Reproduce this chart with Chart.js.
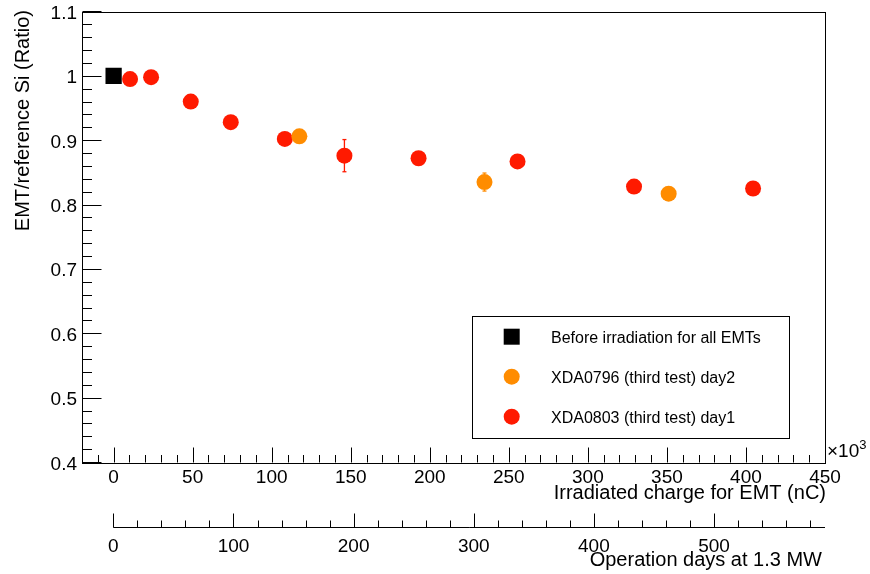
<!DOCTYPE html>
<html>
<head>
<meta charset="utf-8">
<script src="https://cdn.jsdelivr.net/npm/chart.js@4.4.1/dist/chart.umd.min.js"></script>
<style>
  html, body { margin: 0; padding: 0; background: #fff; }
  #wrap { width: 870px; height: 574px; }
</style>
</head>
<body>
<div id="wrap"><canvas id="chart" width="870" height="574"></canvas></div>
<script>
// values, charge in units of 10^3 nC
const refCharge = [0];
const refRatio = [1.0];

const day2Charge = [117.5, 234.6, 351.1];
const day2Ratio = [0.906, 0.835, 0.817];
const day2Err = [0.004, 0.014, 0.004];

const day1Charge = [10.4, 23.7, 48.8, 74.1, 108.3, 146.0, 192.9, 255.5, 329.2, 404.5];
const day1Ratio = [0.995, 0.998, 0.960, 0.928, 0.902, 0.876, 0.872, 0.867, 0.828, 0.825];
const day1Err = [0.004, 0.004, 0.004, 0.004, 0.004, 0.025, 0.004, 0.004, 0.004, 0.004];

const chargeTicks = [0, 50, 100, 150, 200, 250, 300, 350, 400, 450];
const ratioTicks = [0.4, 0.5, 0.6, 0.7, 0.8, 0.9, 1.0, 1.1];
const ratioLabels = ['0.4', '0.5', '0.6', '0.7', '0.8', '0.9', '1', '1.1'];
const dayTicks = [0, 100, 200, 300, 400, 500];

const chargeMinor = 10;
const ratioMinor = 0.02;
const dayMinor = 20;

const legendLabels = ['Before irradiation for all EMTs', 'XDA0796 (third test) day2', 'XDA0803 (third test) day1'];

const FONT = '"Liberation Sans", Arial, Helvetica, sans-serif';
const RED = '#ff1a00';
const ORANGE = '#ff8c00';

const toPoints = (xs, ys) => xs.map((x, i) => ({ x: x, y: ys[i] }));

const crisp = (v) => Math.round(v) + 0.5;

const line = (ctx, x1, y1, x2, y2) => {
    ctx.beginPath();
    ctx.moveTo(x1, y1);
    ctx.lineTo(x2, y2);
    ctx.stroke();
};

const rootAxes = {
    id: 'rootAxes',
    beforeDatasetsDraw(chart) {
        const ctx = chart.ctx;
        const xs = chart.scales.x, ys = chart.scales.y;
        const sets = [[day1Charge, day1Ratio, day1Err, RED], [day2Charge, day2Ratio, day2Err, ORANGE]];
        ctx.save();
        ctx.lineWidth = 1.3;
        sets.forEach(([cx, cy, ce, col]) => {
            ctx.strokeStyle = col;
            cx.forEach((v, i) => {
                const px = xs.getPixelForValue(v);
                const top = ys.getPixelForValue(cy[i] + ce[i]);
                const bot = ys.getPixelForValue(cy[i] - ce[i]);
                line(ctx, px, top, px, bot);
                line(ctx, px - 2, top, px + 2, top);
                line(ctx, px - 2, bot, px + 2, bot);
            });
        });
        ctx.restore();
    },
    afterDraw(chart) {
        const ctx = chart.ctx;
        const a = chart.chartArea;
        const xs = chart.scales.x, ys = chart.scales.y, ds = chart.scales.x2;
        ctx.save();
        ctx.strokeStyle = '#000';
        ctx.lineWidth = 1;

        // frame
        ctx.strokeRect(crisp(a.left), crisp(a.top), Math.round(a.right - a.left), Math.round(a.bottom - a.top));

        // bottom axis ticks
        const by = crisp(a.bottom);
        for (let v = -20; v <= 450 + 1e-6; v += chargeMinor) {
            const px = crisp(xs.getPixelForValue(v));
            const major = chargeTicks.some(t => Math.abs(t - v) < 1e-6);
            line(ctx, px, by, px, by - (major ? 15 : 7.5));
        }
        // left axis ticks
        const lx = crisp(a.left);
        for (let v = 0.4; v <= 1.1 + 1e-6; v += ratioMinor) {
            const py = crisp(ys.getPixelForValue(v));
            const major = ratioTicks.some(t => Math.abs(t - v) < 1e-6);
            line(ctx, lx, py, lx + (major ? 19 : 9.5), py);
        }

        ctx.fillStyle = '#000';
        ctx.font = '19px ' + FONT;
        ctx.textBaseline = 'alphabetic';
        ctx.textAlign = 'center';
        chargeTicks.forEach(t => ctx.fillText(String(t), xs.getPixelForValue(t), 483));
        ctx.textAlign = 'right';
        ratioTicks.forEach((t, i) => ctx.fillText(ratioLabels[i], 77, ys.getPixelForValue(t) + 7.5));

        // x10^3
        ctx.textAlign = 'left';
        ctx.fillText('\u00d710', 827, 457);
        const w = ctx.measureText('\u00d710').width;
        ctx.font = '13px ' + FONT;
        ctx.fillText('3', 827 + w, 449);

        // axis titles
        ctx.font = '20px ' + FONT;
        ctx.textAlign = 'right';
        ctx.fillText('Irradiated charge for EMT (nC)', 826, 499);
        ctx.fillText('Operation days at 1.3 MW', 822, 566);
        ctx.save();
        ctx.translate(29, 10);
        ctx.rotate(-Math.PI / 2);
        ctx.fillText('EMT/reference Si (Ratio)', 0, 0);
        ctx.restore();

        // second axis: operation days
        const dy = 527.5;
        const d0 = ds.getPixelForValue(0);
        line(ctx, d0, dy, a.right, dy);
        for (let v = 0; v <= 580 + 1e-6; v += dayMinor) {
            const px = crisp(ds.getPixelForValue(v));
            const major = dayTicks.some(t => Math.abs(t - v) < 1e-6);
            line(ctx, px, dy, px, dy - (major ? 14 : 7));
        }
        ctx.font = '19px ' + FONT;
        ctx.textAlign = 'center';
        dayTicks.forEach(t => ctx.fillText(String(t), ds.getPixelForValue(t), 552));

        // legend
        const lb = { x: 472, y: 316, w: 317, h: 122 };
        ctx.fillStyle = '#fff';
        ctx.fillRect(lb.x, lb.y, lb.w, lb.h);
        ctx.strokeRect(lb.x + 0.5, lb.y + 0.5, lb.w, lb.h);
        const rows = [336.7, 376.7, 416.7];
        const cols = ['#000', ORANGE, RED];
        rows.forEach((ry, i) => {
            ctx.fillStyle = cols[i];
            if (i === 0) {
                ctx.fillRect(511.7 - 8, ry - 8, 16, 16);
            } else {
                ctx.beginPath();
                ctx.arc(511.7, ry, 8, 0, Math.PI * 2);
                ctx.fill();
            }
            ctx.fillStyle = '#000';
            ctx.font = '16px ' + FONT;
            ctx.textAlign = 'left';
            ctx.fillText(legendLabels[i], 551, ry + 6);
        });
        ctx.restore();
    }
};

new Chart(document.getElementById('chart'), {
    type: 'scatter',
    data: {
        datasets: [
            {
                label: legendLabels[0],
                data: toPoints(refCharge, refRatio),
                pointStyle: 'rect',
                pointRadius: 11.5,
                backgroundColor: '#000',
                borderWidth: 0,
                order: 1
            },
            {
                label: legendLabels[1],
                data: toPoints(day2Charge, day2Ratio),
                pointStyle: 'circle',
                pointRadius: 8,
                backgroundColor: ORANGE,
                borderWidth: 0,
                order: 2
            },
            {
                label: legendLabels[2],
                data: toPoints(day1Charge, day1Ratio),
                pointStyle: 'circle',
                pointRadius: 8,
                backgroundColor: RED,
                borderWidth: 0,
                order: 3
            }
        ]
    },
    options: {
        responsive: false,
        animation: false,
        layout: { padding: { left: 82, top: 10, right: 45, bottom: 112 } },
        plugins: { legend: { display: false }, tooltip: { enabled: false } },
        scales: {
            x: { type: 'linear', min: -20, max: 450, display: false },
            y: { type: 'linear', min: 0.4, max: 1.1, display: false },
            x2: { type: 'linear', axis: 'x', position: 'bottom', min: -26.1, max: 592.4, display: false }
        }
    },
    plugins: [rootAxes]
});
</script>
</body>
</html>
